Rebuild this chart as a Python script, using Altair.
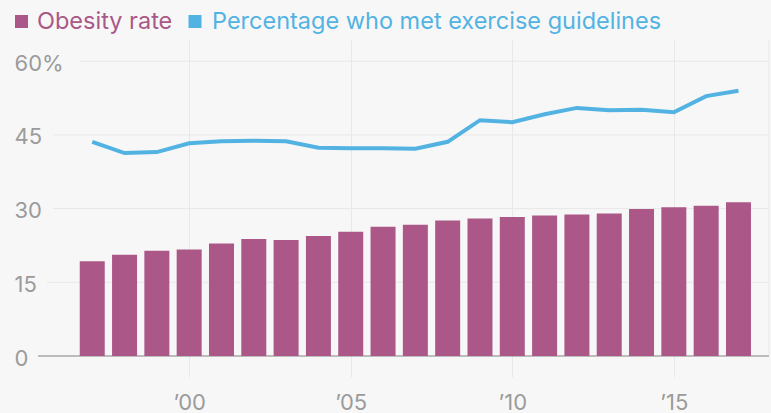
import altair as alt
import pandas as pd

YEARS = list(range(1997, 2018))
OBESITY = [19.3, 20.6, 21.4, 21.7, 22.9, 23.8, 23.6, 24.4, 25.3, 26.3, 26.7,
           27.6, 28.0, 28.3, 28.6, 28.8, 29.0, 29.9, 30.3, 30.6, 31.3]
EXERCISE = [43.6, 41.3, 41.5, 43.3, 43.7, 43.8, 43.7, 42.4, 42.3, 42.3, 42.2,
            43.6, 48.0, 47.6, 49.2, 50.5, 50.0, 50.1, 49.6, 52.9, 54.0]
SERIES = ["Obesity rate", "Percentage who met exercise guidelines"]
COLORS = ["#ab5787", "#52b3e3"]
Y_TICKS = [0, 15, 30, 45, 60]
X_TICKS = [2000, 2005, 2010, 2015]

W, H = 769, 316
GRID = "#e8e8e8"
LABEL = "#9b9b9b"
FONT = "Inter"

df = pd.DataFrame({"year": YEARS, "obesity": OBESITY, "exercise": EXERCISE})

xscale = alt.Scale(domain=[1994.30, 2017.79], nice=False, zero=False)
yscale = alt.Scale(domain=[0, 64.32], nice=False)

xaxis = alt.Axis(values=X_TICKS, format="d",
                 labelExpr="'\u2019' + substring(datum.label, 2)",
                 grid=True, gridColor=GRID, gridWidth=1,
                 ticks=True, tickColor=GRID, tickSize=21, domain=False,
                 labelFont=FONT, labelFontSize=22, labelColor=LABEL,
                 labelPadding=15, title=None)
yaxis = alt.Axis(values=Y_TICKS, grid=False, ticks=False, tickSize=0, domain=False,
                 labelExpr="datum.value == 60 ? datum.label + '%' : datum.label",
                 labelAlign="left", labelPadding=-14, labelBaseline="middle",
                 labelOffset=2,
                 labelFont=FONT, labelFontSize=22, labelColor=LABEL, title=None)

base = alt.Chart(df)

bars = base.mark_bar(color=COLORS[0], width=25).encode(
    x=alt.X("year:Q", scale=xscale, axis=xaxis),
    y=alt.Y("obesity:Q", scale=yscale, axis=yaxis),
)

line = base.mark_line(color=COLORS[1], strokeWidth=4).encode(
    x=alt.X("year:Q", scale=xscale),
    y=alt.Y("exercise:Q", scale=yscale),
)

# horizontal gridlines start just right of each label
grid_start = {15: 47, 30: 53, 45: 53, 60: 80}
grid_layers = []
for v in Y_TICKS[1:]:
    grid_layers.append(
        alt.Chart(pd.DataFrame({"v": [v]})).mark_rule(color=GRID, strokeWidth=1).encode(
            y=alt.Y("v:Q", scale=yscale),
            x=alt.value(grid_start[v]), x2=alt.value(W),
        )
    )

baseline = alt.Chart(pd.DataFrame({"v": [Y_TICKS[0]]})).mark_rule(
    color="#a9a9a9", strokeWidth=1.3).encode(
    y=alt.Y("v:Q", scale=yscale), x=alt.value(38), x2=alt.value(W))

right_edge = alt.Chart(pd.DataFrame({"v": [0]})).mark_rule(color=GRID, strokeWidth=1).encode(
    x=alt.value(W), y=alt.value(0), y2=alt.value(H))

# legend
leg = []
sq_x = [21.5, 195]
tx_x = [37, 212]
for i, name in enumerate(SERIES):
    d = pd.DataFrame({"label": [name]})
    leg.append(alt.Chart(d).mark_square(size=169, color=COLORS[i], opacity=1, filled=True).encode(
        x=alt.value(sq_x[i]), y=alt.value(-18.5)))
    leg.append(alt.Chart(d).mark_text(align="left", baseline="alphabetic", fontSize=23.5,
                                      font=FONT, color=COLORS[i]).encode(
        x=alt.value(tx_x[i]), y=alt.value(-10.7), text="label:N"))

chart = alt.layer(*grid_layers, right_edge, baseline, bars, line, *leg).properties(
    width=W, height=H,
    autosize=alt.AutoSizeParams(type="none"),
    padding={"left": 0, "top": 40, "right": 2, "bottom": 57},
    background="#f7f7f7",
).configure_view(stroke=None)

chart.save("out.html", embed_options={"renderer": "svg", "actions": False})
